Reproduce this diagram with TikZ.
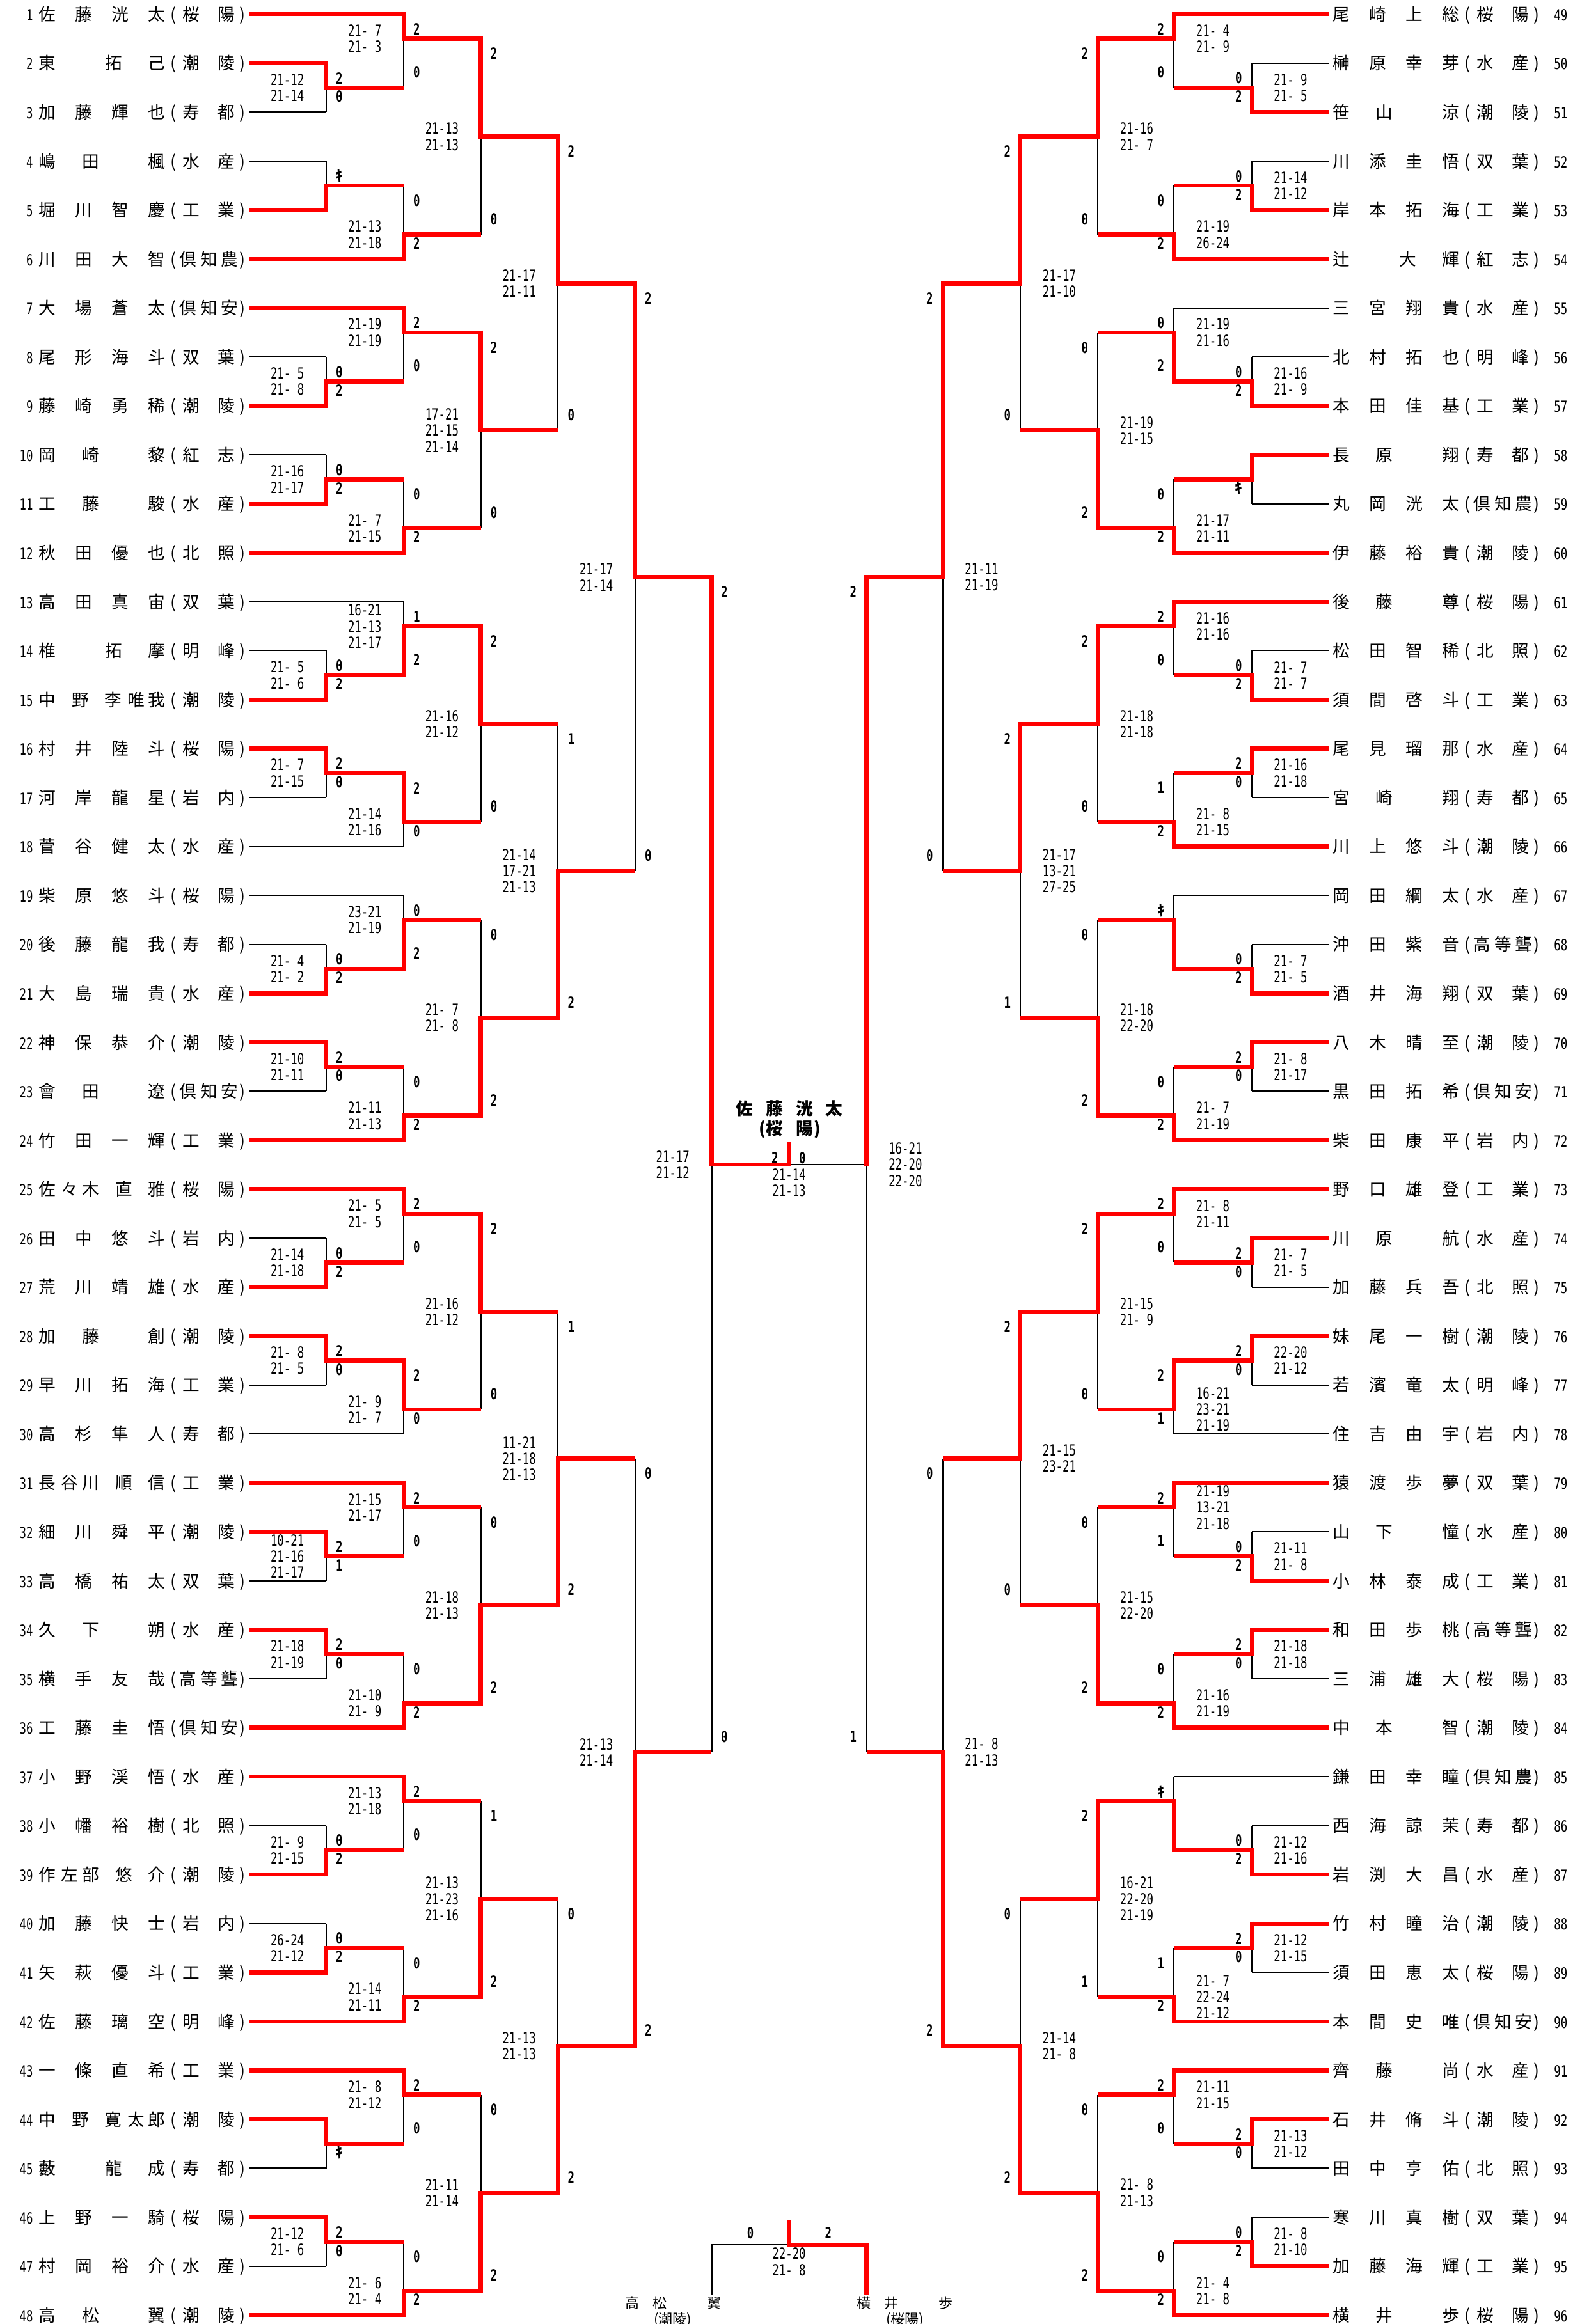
\documentclass[tikz,border=0pt]{standalone}
\usepackage{fontspec}
\newfontfamily\jp{Noto Sans CJK JP}
\newfontfamily\scfont[FakeStretch=0.72]{DejaVu Sans Mono}
\definecolor{bred}{RGB}{255,0,0}
\pgfdeclarelayer{back}
\pgfdeclarelayer{bg}
\pgfsetlayers{back,bg,main}
\pgfmathdeclarefunction{rw}{1}{\pgfmathparse{9.6+33.03*(#1-1)}}
\newcommand\xLv[1]{\ifcase\numexpr#1\relax 168\or 220\or 272.2\or 324.3\or 376.4\or 428.4\or 480\or 532.25\fi}
\newcommand\xRv[1]{\ifcase\numexpr#1\relax 896.5\or 844.3\or 791.9\or 740.5\or 688.3\or 635.9\or 584.5\or 532.25\fi}
\newcommand\putc[2]{\rlap{\kern#1pt\makebox[0pt]{#2}}}
\newcommand\zs{\hphantom{0}}
\newcommand\numf{\scfont\fontsize{10.4}{12}\selectfont}
\newcommand\kk{{\jp\bfseries\fontsize{10}{12}\selectfont ｷ}}
\newcommand\nmF[4]{\putc{0}{#1}\putc{24.6}{#2}\putc{49.2}{#3}\putc{73.8}{#4}}
\newcommand\nmTO[3]{\putc{0}{#1}\putc{29.2}{#2}\putc{73.8}{#3}}
\newcommand\nmOT[3]{\putc{0}{#1}\putc{45}{#2}\putc{73.8}{#3}}
\newcommand\nmThT[5]{\putc{0}{#1}\putc{15}{#2}\putc{29.3}{#3}\putc{51.7}{#4}\putc{74}{#5}}
\newcommand\nmTTh[5]{\putc{0}{#1}\putc{22.7}{#2}\putc{44.5}{#3}\putc{60}{#4}\putc{74}{#5}}
\newcommand\scB[2]{\putc{85}{(}\putc{97.2}{#1}\putc{121}{#2}\putc{131.8}{)}}
\newcommand\scC[3]{\putc{85}{(}\putc{94.9}{#1}\putc{109.1}{#2}\putc{123}{#3}\putc{131.8}{)}}
\newcount\mcnt
\tikzset{
  rd/.style={draw=bred, line width=2.8pt, line join=miter},
  bk/.style={draw=black, line width=0.9pt},
  rowt/.style={inner sep=0pt, anchor=base, font=\jp\fontsize{11.5}{13}\selectfont},
  wl/.style={inner sep=0pt, font=\scfont\bfseries\fontsize{10.4}{12}\selectfont},
  sc/.style={inner sep=0pt, align=center, font=\scfont\fontsize{10.4}{10.9}\selectfont},
  champ/.style={inner sep=0pt, anchor=base, font=\jp\bfseries\fontsize{11.5}{13}\selectfont},
  bname/.style={inner sep=0pt, anchor=base, font=\jp\fontsize{9.5}{11}\selectfont}
}
% player row: side, row, number, name, school, first level, r/b
\newcommand\plr[7]{%
  \if#1L\edef\xa{\xLv{0}}\edef\xb{\xLv{#6}}%
    \node[rowt] (n#3) at (31.8,{rw(#2)+4.4}) {\putc{-9.6}{\llap{\numf #3}}#4#5};%
  \else\edef\xa{\xRv{0}}\edef\xb{\xRv{#6}}%
    \node[rowt] (n#3) at (904.6,{rw(#2)+4.4}) {#4#5\putc{143.6}{\rlap{\numf #3}}};%
  \fi
  \coordinate (e#3) at (\xa,{rw(#2)});%
  \if#7r\draw[rd] (e#3) -- (\xb,{rw(#2)});%
  \else\begin{pgfonlayer}{bg}\draw[bk] (e#3) -- (\xb,{rw(#2)});\end{pgfonlayer}\fi
}
% match: side, level, row top, row bottom, row out, winner t/b, top label, bottom label, scores
\newcommand\mt[9]{%
  \global\advance\mcnt by 1
  \if#1L\edef\xx{\xLv{#2}}\edef\xn{\xLv{#2+1}}\def\mysg{1}%
  \else\edef\xx{\xRv{#2}}\edef\xn{\xRv{#2+1}}\def\mysg{(-1)}\fi
  \pgfmathsetmacro\yt{rw(#3)}\pgfmathsetmacro\yb{rw(#4)}\pgfmathsetmacro\yo{rw(#5)}%
  \if#6t\pgfmathsetmacro\yi{\yt-1.4}\else\pgfmathsetmacro\yi{\yb+1.4}\fi
  \coordinate (m\the\mcnt) at (\xx,\yo);
  \begin{pgfonlayer}{bg}\draw[bk] (\xx,\yt) -- (\xx,\yb);\end{pgfonlayer}
  \draw[rd] (\xx,\yi) -- (m\the\mcnt) -- (\xn,\yo);
  \ifx\relax#7\relax\else\node[wl] (t\the\mcnt) at ({\xx+\mysg*8.8},{\yt+10.1}) {#7};\fi
  \ifx\relax#8\relax\else\node[wl] (b\the\mcnt) at ({\xx+\mysg*8.8},{\yb-10.5}) {#8};\fi
  \ifx\relax#9\relax\else\node[sc] (s\the\mcnt) at ({\xx-\mysg*26.2},\yo) {#9};\fi
}
\begin{document}
\begin{tikzpicture}[x=1pt,y=-1pt]
\begin{pgfonlayer}{back}\fill[white] (0,0) rectangle (1071.4,1568);\end{pgfonlayer}
\useasboundingbox (0,0) rectangle (1071.4,1568);
% ---------------- left players
\plr{L}{1}{1}{\nmF{佐}{藤}{洸}{太}}{\scB{桜}{陽}}{2}{r}
\plr{L}{2}{2}{\nmOT{東}{拓}{己}}{\scB{潮}{陵}}{1}{r}
\plr{L}{3}{3}{\nmF{加}{藤}{輝}{也}}{\scB{寿}{都}}{1}{b}
\plr{L}{4}{4}{\nmTO{嶋}{田}{楓}}{\scB{水}{産}}{1}{b}
\plr{L}{5}{5}{\nmF{堀}{川}{智}{慶}}{\scB{工}{業}}{1}{r}
\plr{L}{6}{6}{\nmF{川}{田}{大}{智}}{\scC{倶}{知}{農}}{2}{r}
\plr{L}{7}{7}{\nmF{大}{場}{蒼}{太}}{\scC{倶}{知}{安}}{2}{r}
\plr{L}{8}{8}{\nmF{尾}{形}{海}{斗}}{\scB{双}{葉}}{1}{b}
\plr{L}{9}{9}{\nmF{藤}{崎}{勇}{稀}}{\scB{潮}{陵}}{1}{r}
\plr{L}{10}{10}{\nmTO{岡}{崎}{黎}}{\scB{紅}{志}}{1}{b}
\plr{L}{11}{11}{\nmTO{工}{藤}{駿}}{\scB{水}{産}}{1}{r}
\plr{L}{12}{12}{\nmF{秋}{田}{優}{也}}{\scB{北}{照}}{2}{r}
\plr{L}{13}{13}{\nmF{高}{田}{真}{宙}}{\scB{双}{葉}}{2}{b}
\plr{L}{14}{14}{\nmOT{椎}{拓}{摩}}{\scB{明}{峰}}{1}{b}
\plr{L}{15}{15}{\nmTTh{中}{野}{李}{唯}{我}}{\scB{潮}{陵}}{1}{r}
\plr{L}{16}{16}{\nmF{村}{井}{陸}{斗}}{\scB{桜}{陽}}{1}{r}
\plr{L}{17}{17}{\nmF{河}{岸}{龍}{星}}{\scB{岩}{内}}{1}{b}
\plr{L}{18}{18}{\nmF{菅}{谷}{健}{太}}{\scB{水}{産}}{2}{b}
\plr{L}{19}{19}{\nmF{柴}{原}{悠}{斗}}{\scB{桜}{陽}}{2}{b}
\plr{L}{20}{20}{\nmF{後}{藤}{龍}{我}}{\scB{寿}{都}}{1}{b}
\plr{L}{21}{21}{\nmF{大}{島}{瑞}{貴}}{\scB{水}{産}}{1}{r}
\plr{L}{22}{22}{\nmF{神}{保}{恭}{介}}{\scB{潮}{陵}}{1}{r}
\plr{L}{23}{23}{\nmTO{會}{田}{遼}}{\scC{倶}{知}{安}}{1}{b}
\plr{L}{24}{24}{\nmF{竹}{田}{一}{輝}}{\scB{工}{業}}{2}{r}
\plr{L}{25}{25}{\nmThT{佐}{々}{木}{直}{雅}}{\scB{桜}{陽}}{2}{r}
\plr{L}{26}{26}{\nmF{田}{中}{悠}{斗}}{\scB{岩}{内}}{1}{b}
\plr{L}{27}{27}{\nmF{荒}{川}{靖}{雄}}{\scB{水}{産}}{1}{r}
\plr{L}{28}{28}{\nmTO{加}{藤}{創}}{\scB{潮}{陵}}{1}{r}
\plr{L}{29}{29}{\nmF{早}{川}{拓}{海}}{\scB{工}{業}}{1}{b}
\plr{L}{30}{30}{\nmF{高}{杉}{隼}{人}}{\scB{寿}{都}}{2}{b}
\plr{L}{31}{31}{\nmThT{長}{谷}{川}{順}{信}}{\scB{工}{業}}{2}{r}
\plr{L}{32}{32}{\nmF{細}{川}{舜}{平}}{\scB{潮}{陵}}{1}{r}
\plr{L}{33}{33}{\nmF{高}{橋}{祐}{太}}{\scB{双}{葉}}{1}{b}
\plr{L}{34}{34}{\nmTO{久}{下}{朔}}{\scB{水}{産}}{1}{r}
\plr{L}{35}{35}{\nmF{横}{手}{友}{哉}}{\scC{高}{等}{聾}}{1}{b}
\plr{L}{36}{36}{\nmF{工}{藤}{圭}{悟}}{\scC{倶}{知}{安}}{2}{r}
\plr{L}{37}{37}{\nmF{小}{野}{渓}{悟}}{\scB{水}{産}}{2}{r}
\plr{L}{38}{38}{\nmF{小}{幡}{裕}{樹}}{\scB{北}{照}}{1}{b}
\plr{L}{39}{39}{\nmThT{作}{左}{部}{悠}{介}}{\scB{潮}{陵}}{1}{r}
\plr{L}{40}{40}{\nmF{加}{藤}{快}{士}}{\scB{岩}{内}}{1}{b}
\plr{L}{41}{41}{\nmF{矢}{萩}{優}{斗}}{\scB{工}{業}}{1}{r}
\plr{L}{42}{42}{\nmF{佐}{藤}{璃}{空}}{\scB{明}{峰}}{2}{r}
\plr{L}{43}{43}{\nmF{一}{條}{直}{希}}{\scB{工}{業}}{2}{r}
\plr{L}{44}{44}{\nmTTh{中}{野}{寛}{太}{郎}}{\scB{潮}{陵}}{1}{r}
\plr{L}{45}{45}{\nmOT{藪}{龍}{成}}{\scB{寿}{都}}{1}{b}
\plr{L}{46}{46}{\nmF{上}{野}{一}{騎}}{\scB{桜}{陽}}{1}{r}
\plr{L}{47}{47}{\nmF{村}{岡}{裕}{介}}{\scB{水}{産}}{1}{b}
\plr{L}{48}{48}{\nmTO{高}{松}{翼}}{\scB{潮}{陵}}{2}{r}
% ---------------- right players
\plr{R}{1}{49}{\nmF{尾}{崎}{上}{総}}{\scB{桜}{陽}}{2}{r}
\plr{R}{2}{50}{\nmF{榊}{原}{幸}{芽}}{\scB{水}{産}}{1}{b}
\plr{R}{3}{51}{\nmTO{笹}{山}{涼}}{\scB{潮}{陵}}{1}{r}
\plr{R}{4}{52}{\nmF{川}{添}{圭}{悟}}{\scB{双}{葉}}{1}{b}
\plr{R}{5}{53}{\nmF{岸}{本}{拓}{海}}{\scB{工}{業}}{1}{r}
\plr{R}{6}{54}{\nmOT{辻}{大}{輝}}{\scB{紅}{志}}{2}{r}
\plr{R}{7}{55}{\nmF{三}{宮}{翔}{貴}}{\scB{水}{産}}{2}{b}
\plr{R}{8}{56}{\nmF{北}{村}{拓}{也}}{\scB{明}{峰}}{1}{b}
\plr{R}{9}{57}{\nmF{本}{田}{佳}{基}}{\scB{工}{業}}{1}{r}
\plr{R}{10}{58}{\nmTO{長}{原}{翔}}{\scB{寿}{都}}{1}{r}
\plr{R}{11}{59}{\nmF{丸}{岡}{洸}{太}}{\scC{倶}{知}{農}}{1}{b}
\plr{R}{12}{60}{\nmF{伊}{藤}{裕}{貴}}{\scB{潮}{陵}}{2}{r}
\plr{R}{13}{61}{\nmTO{後}{藤}{尊}}{\scB{桜}{陽}}{2}{r}
\plr{R}{14}{62}{\nmF{松}{田}{智}{稀}}{\scB{北}{照}}{1}{b}
\plr{R}{15}{63}{\nmF{須}{間}{啓}{斗}}{\scB{工}{業}}{1}{r}
\plr{R}{16}{64}{\nmF{尾}{見}{瑠}{那}}{\scB{水}{産}}{1}{r}
\plr{R}{17}{65}{\nmTO{宮}{崎}{翔}}{\scB{寿}{都}}{1}{b}
\plr{R}{18}{66}{\nmF{川}{上}{悠}{斗}}{\scB{潮}{陵}}{2}{r}
\plr{R}{19}{67}{\nmF{岡}{田}{綱}{太}}{\scB{水}{産}}{2}{b}
\plr{R}{20}{68}{\nmF{沖}{田}{紫}{音}}{\scC{高}{等}{聾}}{1}{b}
\plr{R}{21}{69}{\nmF{酒}{井}{海}{翔}}{\scB{双}{葉}}{1}{r}
\plr{R}{22}{70}{\nmF{八}{木}{晴}{至}}{\scB{潮}{陵}}{1}{r}
\plr{R}{23}{71}{\nmF{黒}{田}{拓}{希}}{\scC{倶}{知}{安}}{1}{b}
\plr{R}{24}{72}{\nmF{柴}{田}{康}{平}}{\scB{岩}{内}}{2}{r}
\plr{R}{25}{73}{\nmF{野}{口}{雄}{登}}{\scB{工}{業}}{2}{r}
\plr{R}{26}{74}{\nmTO{川}{原}{航}}{\scB{水}{産}}{1}{r}
\plr{R}{27}{75}{\nmF{加}{藤}{兵}{吾}}{\scB{北}{照}}{1}{b}
\plr{R}{28}{76}{\nmF{妹}{尾}{一}{樹}}{\scB{潮}{陵}}{1}{r}
\plr{R}{29}{77}{\nmF{若}{濱}{竜}{太}}{\scB{明}{峰}}{1}{b}
\plr{R}{30}{78}{\nmF{住}{吉}{由}{宇}}{\scB{岩}{内}}{2}{b}
\plr{R}{31}{79}{\nmF{猿}{渡}{歩}{夢}}{\scB{双}{葉}}{2}{r}
\plr{R}{32}{80}{\nmTO{山}{下}{憧}}{\scB{水}{産}}{1}{b}
\plr{R}{33}{81}{\nmF{小}{林}{泰}{成}}{\scB{工}{業}}{1}{r}
\plr{R}{34}{82}{\nmF{和}{田}{歩}{桃}}{\scC{高}{等}{聾}}{1}{r}
\plr{R}{35}{83}{\nmF{三}{浦}{雄}{大}}{\scB{桜}{陽}}{1}{b}
\plr{R}{36}{84}{\nmTO{中}{本}{智}}{\scB{潮}{陵}}{2}{r}
\plr{R}{37}{85}{\nmF{鎌}{田}{幸}{瞳}}{\scC{倶}{知}{農}}{2}{b}
\plr{R}{38}{86}{\nmF{西}{海}{諒}{茉}}{\scB{寿}{都}}{1}{b}
\plr{R}{39}{87}{\nmF{岩}{渕}{大}{昌}}{\scB{水}{産}}{1}{r}
\plr{R}{40}{88}{\nmF{竹}{村}{瞳}{治}}{\scB{潮}{陵}}{1}{r}
\plr{R}{41}{89}{\nmF{須}{田}{恵}{太}}{\scB{桜}{陽}}{1}{b}
\plr{R}{42}{90}{\nmF{本}{間}{史}{唯}}{\scC{倶}{知}{安}}{2}{r}
\plr{R}{43}{91}{\nmTO{齊}{藤}{尚}}{\scB{水}{産}}{2}{r}
\plr{R}{44}{92}{\nmF{石}{井}{脩}{斗}}{\scB{潮}{陵}}{1}{r}
\plr{R}{45}{93}{\nmF{田}{中}{亨}{佑}}{\scB{北}{照}}{1}{b}
\plr{R}{46}{94}{\nmF{寒}{川}{真}{樹}}{\scB{双}{葉}}{1}{b}
\plr{R}{47}{95}{\nmF{加}{藤}{海}{輝}}{\scB{工}{業}}{1}{r}
\plr{R}{48}{96}{\nmTO{横}{井}{歩}}{\scB{桜}{陽}}{2}{r}
% ---------------- left matches
\mt{L}{1}{2}{3}{2.5}{t}{2}{0}{21-12\\21-14}
\mt{L}{2}{1}{2.5}{1.5}{t}{2}{0}{21-\zs7\\21-\zs3}
\mt{L}{1}{4}{5}{4.5}{b}{\kk}{}{}
\mt{L}{2}{4.5}{6}{5.5}{b}{0}{2}{21-13\\21-18}
\mt{L}{3}{1.5}{5.5}{3.5}{t}{2}{0}{21-13\\21-13}
\mt{L}{1}{8}{9}{8.5}{b}{0}{2}{21-\zs5\\21-\zs8}
\mt{L}{2}{7}{8.5}{7.5}{t}{2}{0}{21-19\\21-19}
\mt{L}{1}{10}{11}{10.5}{b}{0}{2}{21-16\\21-17}
\mt{L}{2}{10.5}{12}{11.5}{b}{0}{2}{21-\zs7\\21-15}
\mt{L}{3}{7.5}{11.5}{9.5}{t}{2}{0}{17-21\\21-15\\21-14}
\mt{L}{4}{3.5}{9.5}{6.5}{t}{2}{0}{21-17\\21-11}
\mt{L}{1}{14}{15}{14.5}{b}{0}{2}{21-\zs5\\21-\zs6}
\mt{L}{2}{13}{14.5}{13.5}{b}{1}{2}{16-21\\21-13\\21-17}
\mt{L}{1}{16}{17}{16.5}{t}{2}{0}{21-\zs7\\21-15}
\mt{L}{2}{16.5}{18}{17.5}{t}{2}{0}{21-14\\21-16}
\mt{L}{3}{13.5}{17.5}{15.5}{t}{2}{0}{21-16\\21-12}
\mt{L}{1}{20}{21}{20.5}{b}{0}{2}{21-\zs4\\21-\zs2}
\mt{L}{2}{19}{20.5}{19.5}{b}{0}{2}{23-21\\21-19}
\mt{L}{1}{22}{23}{22.5}{t}{2}{0}{21-10\\21-11}
\mt{L}{2}{22.5}{24}{23.5}{b}{0}{2}{21-11\\21-13}
\mt{L}{3}{19.5}{23.5}{21.5}{b}{0}{2}{21-\zs7\\21-\zs8}
\mt{L}{4}{15.5}{21.5}{18.5}{b}{1}{2}{21-14\\17-21\\21-13}
\mt{L}{5}{6.5}{18.5}{12.5}{t}{2}{0}{21-17\\21-14}
\mt{L}{1}{26}{27}{26.5}{b}{0}{2}{21-14\\21-18}
\mt{L}{2}{25}{26.5}{25.5}{t}{2}{0}{21-\zs5\\21-\zs5}
\mt{L}{1}{28}{29}{28.5}{t}{2}{0}{21-\zs8\\21-\zs5}
\mt{L}{2}{28.5}{30}{29.5}{t}{2}{0}{21-\zs9\\21-\zs7}
\mt{L}{3}{25.5}{29.5}{27.5}{t}{2}{0}{21-16\\21-12}
\mt{L}{1}{32}{33}{32.5}{t}{2}{1}{10-21\\21-16\\21-17}
\mt{L}{2}{31}{32.5}{31.5}{t}{2}{0}{21-15\\21-17}
\mt{L}{1}{34}{35}{34.5}{t}{2}{0}{21-18\\21-19}
\mt{L}{2}{34.5}{36}{35.5}{b}{0}{2}{21-10\\21-\zs9}
\mt{L}{3}{31.5}{35.5}{33.5}{b}{0}{2}{21-18\\21-13}
\mt{L}{4}{27.5}{33.5}{30.5}{b}{1}{2}{11-21\\21-18\\21-13}
\mt{L}{1}{38}{39}{38.5}{b}{0}{2}{21-\zs9\\21-15}
\mt{L}{2}{37}{38.5}{37.5}{t}{2}{0}{21-13\\21-18}
\mt{L}{1}{40}{41}{40.5}{b}{0}{2}{26-24\\21-12}
\mt{L}{2}{40.5}{42}{41.5}{b}{0}{2}{21-14\\21-11}
\mt{L}{3}{37.5}{41.5}{39.5}{b}{1}{2}{21-13\\21-23\\21-16}
\mt{L}{1}{44}{45}{44.5}{t}{}{\kk}{}
\mt{L}{2}{43}{44.5}{43.5}{t}{2}{0}{21-\zs8\\21-12}
\mt{L}{1}{46}{47}{46.5}{t}{2}{0}{21-12\\21-\zs6}
\mt{L}{2}{46.5}{48}{47.5}{b}{0}{2}{21-\zs6\\21-\zs4}
\mt{L}{3}{43.5}{47.5}{45.5}{b}{0}{2}{21-11\\21-14}
\mt{L}{4}{39.5}{45.5}{42.5}{b}{0}{2}{21-13\\21-13}
\mt{L}{5}{30.5}{42.5}{36.5}{b}{0}{2}{21-13\\21-14}
% ---------------- right matches
\mt{R}{1}{2}{3}{2.5}{b}{0}{2}{21-\zs9\\21-\zs5}
\mt{R}{2}{1}{2.5}{1.5}{t}{2}{0}{21-\zs4\\21-\zs9}
\mt{R}{1}{4}{5}{4.5}{b}{0}{2}{21-14\\21-12}
\mt{R}{2}{4.5}{6}{5.5}{b}{0}{2}{21-19\\26-24}
\mt{R}{3}{1.5}{5.5}{3.5}{t}{2}{0}{21-16\\21-\zs7}
\mt{R}{1}{8}{9}{8.5}{b}{0}{2}{21-16\\21-\zs9}
\mt{R}{2}{7}{8.5}{7.5}{b}{0}{2}{21-19\\21-16}
\mt{R}{1}{10}{11}{10.5}{t}{}{\kk}{}
\mt{R}{2}{10.5}{12}{11.5}{b}{0}{2}{21-17\\21-11}
\mt{R}{3}{7.5}{11.5}{9.5}{b}{0}{2}{21-19\\21-15}
\mt{R}{4}{3.5}{9.5}{6.5}{t}{2}{0}{21-17\\21-10}
\mt{R}{1}{14}{15}{14.5}{b}{0}{2}{21-\zs7\\21-\zs7}
\mt{R}{2}{13}{14.5}{13.5}{t}{2}{0}{21-16\\21-16}
\mt{R}{1}{16}{17}{16.5}{t}{2}{0}{21-16\\21-18}
\mt{R}{2}{16.5}{18}{17.5}{b}{1}{2}{21-\zs8\\21-15}
\mt{R}{3}{13.5}{17.5}{15.5}{t}{2}{0}{21-18\\21-18}
\mt{R}{1}{20}{21}{20.5}{b}{0}{2}{21-\zs7\\21-\zs5}
\mt{R}{2}{19}{20.5}{19.5}{b}{\kk}{}{}
\mt{R}{1}{22}{23}{22.5}{t}{2}{0}{21-\zs8\\21-17}
\mt{R}{2}{22.5}{24}{23.5}{b}{0}{2}{21-\zs7\\21-19}
\mt{R}{3}{19.5}{23.5}{21.5}{b}{0}{2}{21-18\\22-20}
\mt{R}{4}{15.5}{21.5}{18.5}{t}{2}{1}{21-17\\13-21\\27-25}
\mt{R}{5}{6.5}{18.5}{12.5}{t}{2}{0}{21-11\\21-19}
\mt{R}{1}{26}{27}{26.5}{t}{2}{0}{21-\zs7\\21-\zs5}
\mt{R}{2}{25}{26.5}{25.5}{t}{2}{0}{21-\zs8\\21-11}
\mt{R}{1}{28}{29}{28.5}{t}{2}{0}{22-20\\21-12}
\mt{R}{2}{28.5}{30}{29.5}{t}{2}{1}{16-21\\23-21\\21-19}
\mt{R}{3}{25.5}{29.5}{27.5}{t}{2}{0}{21-15\\21-\zs9}
\mt{R}{1}{32}{33}{32.5}{b}{0}{2}{21-11\\21-\zs8}
\mt{R}{2}{31}{32.5}{31.5}{t}{2}{1}{21-19\\13-21\\21-18}
\mt{R}{1}{34}{35}{34.5}{t}{2}{0}{21-18\\21-18}
\mt{R}{2}{34.5}{36}{35.5}{b}{0}{2}{21-16\\21-19}
\mt{R}{3}{31.5}{35.5}{33.5}{b}{0}{2}{21-15\\22-20}
\mt{R}{4}{27.5}{33.5}{30.5}{t}{2}{0}{21-15\\23-21}
\mt{R}{1}{38}{39}{38.5}{b}{0}{2}{21-12\\21-16}
\mt{R}{2}{37}{38.5}{37.5}{b}{\kk}{}{}
\mt{R}{1}{40}{41}{40.5}{t}{2}{0}{21-12\\21-15}
\mt{R}{2}{40.5}{42}{41.5}{b}{1}{2}{21-\zs7\\22-24\\21-12}
\mt{R}{3}{37.5}{41.5}{39.5}{t}{2}{1}{16-21\\22-20\\21-19}
\mt{R}{1}{44}{45}{44.5}{t}{2}{0}{21-13\\21-12}
\mt{R}{2}{43}{44.5}{43.5}{t}{2}{0}{21-11\\21-15}
\mt{R}{1}{46}{47}{46.5}{b}{0}{2}{21-\zs8\\21-10}
\mt{R}{2}{46.5}{48}{47.5}{b}{0}{2}{21-\zs4\\21-\zs8}
\mt{R}{3}{43.5}{47.5}{45.5}{b}{0}{2}{21-\zs8\\21-13}
\mt{R}{4}{39.5}{45.5}{42.5}{b}{0}{2}{21-14\\21-\zs8}
\mt{R}{5}{30.5}{42.5}{36.5}{b}{0}{2}{21-\zs8\\21-13}
% ---------------- semifinals and final
\coordinate (sfL) at (480,{rw(24.5)});
\coordinate (sfR) at (584.5,{rw(24.5)});
\coordinate (fc) at (532.25,{rw(24.5)});
\coordinate (ftop) at (532.25,770.7);
\begin{pgfonlayer}{bg}
\draw[bk] (480,{rw(12.5)}) -- (480,{rw(36.5)});
\draw[bk] (584.5,{rw(12.5)}) -- (584.5,{rw(36.5)});
\draw[bk] (fc) -- (sfR);
\end{pgfonlayer}
\draw[rd] (480,{rw(12.5)-1.4}) -- (sfL) -- (fc) -- (ftop);
\draw[rd] (584.5,{rw(12.5)-1.4}) -- (584.5,{rw(24.5)+1.4});
\node[wl] (sfLt) at (488.6,{rw(12.5)+10.1}) {2};
\node[wl] (sfLb) at (488.6,{rw(36.5)-10.5}) {0};
\node[wl] (sfRt) at (575.5,{rw(12.5)+10.1}) {2};
\node[wl] (sfRb) at (575.5,{rw(36.5)-10.5}) {1};
\node[sc] (sfLs) at (453.8,{rw(24.5)}) {21-17\\21-12};
\node[sc] (sfRs) at (610.7,{rw(24.5)}) {16-21\\22-20\\22-20};
\node[wl] (fl) at (522.7,781.2) {2};
\node[wl] (fr) at (541.2,781.2) {0};
\node[sc] (fs) at (532.25,797.9) {21-14\\21-13};
\node[champ] (ch1) at (502.3,752.1) {\putc{0}{佐}\putc{20.3}{藤}\putc{40.3}{洸}\putc{60.4}{太}};
\node[champ] (ch2) at (502.3,765.8) {\putc{12}{(}\putc{20.3}{桜}\putc{40.3}{陽}\putc{48.9}{)}};
% ---------------- bottom playoff
\coordinate (pa) at (480,1548);
\coordinate (pb) at (480,1514.5);
\coordinate (pc) at (532.25,1514.5);
\coordinate (pd) at (532.25,1498);
\coordinate (pe) at (584.5,1514.5);
\coordinate (pf) at (584.5,1548);
\begin{pgfonlayer}{bg}\draw[bk] (pa) -- (pb) -- (pc);\end{pgfonlayer}
\draw[rd] (pd) -- (pc) -- (pe) -- (pf);
\node[wl] (pl) at (506.2,1506.7) {0};
\node[wl] (pr) at (558.7,1506.7) {2};
\node[sc] (ps) at (532.25,1526) {22-20\\21-\zs8};
\node[bname] (tk1) at (426.7,1557.6) {\putc{0}{高}\putc{18.4}{松}\putc{55.2}{翼}};
\node[bname] (tk2) at (453.9,1568.2) {(潮陵)};
\node[bname] (yk1) at (582.8,1557.6) {\putc{0}{横}\putc{18.4}{井}\putc{55.2}{歩}};
\node[bname] (yk2) at (610.5,1568.2) {(桜陽)};
\end{tikzpicture}
\end{document}
